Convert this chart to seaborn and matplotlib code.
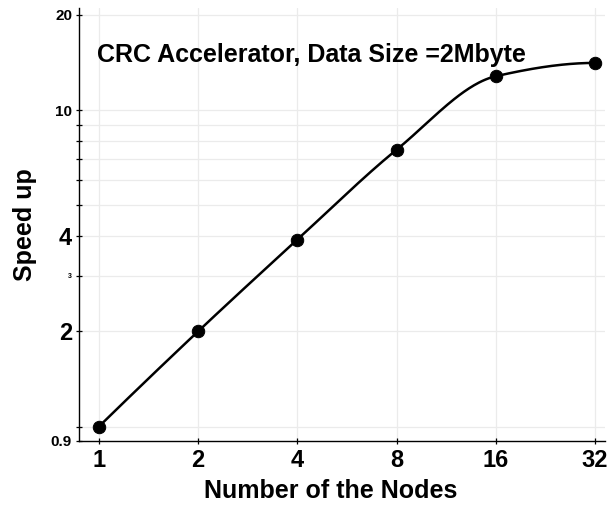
import numpy as np
import pandas as pd
import matplotlib
matplotlib.use("Agg")
import matplotlib.pyplot as plt
import seaborn as sns
from matplotlib.ticker import FixedLocator, NullFormatter

nodes = [1, 2, 4, 8, 16, 32]
speedup = [1.0, 2.0, 3.9, 7.5, 12.8, 14.1]
ytick_vals = [0.9, 2, 3, 4, 10, 20]
ytick_labels = ["0.9", "2", "3", "4", "10", "20"]
ytick_sizes = [11, 17, 5, 17, 11, 11]
title = "CRC Accelerator, Data Size =2Mbyte"


def pchip(x, y, xs):
    """Monotone piecewise cubic Hermite curve through (x, y), evaluated at xs."""
    x = np.asarray(x, float)
    y = np.asarray(y, float)
    h = np.diff(x)
    delta = np.diff(y) / h
    n = len(x)
    m = np.zeros(n)
    for i in range(1, n - 1):
        if delta[i - 1] * delta[i] > 0:
            w1 = 2 * h[i] + h[i - 1]
            w2 = h[i] + 2 * h[i - 1]
            m[i] = (w1 + w2) / (w1 / delta[i - 1] + w2 / delta[i])

    def end_slope(h0, h1, d0, d1):
        s = ((2 * h0 + h1) * d0 - h0 * d1) / (h0 + h1)
        if np.sign(s) != np.sign(d0):
            s = 0.0
        elif np.sign(d0) != np.sign(d1) and abs(s) > abs(3 * d0):
            s = 3 * d0
        return s

    m[0] = end_slope(h[0], h[1], delta[0], delta[1])
    m[-1] = end_slope(h[-1], h[-2], delta[-1], delta[-2])
    out = np.empty_like(xs)
    for k, xv in enumerate(xs):
        i = min(max(np.searchsorted(x, xv) - 1, 0), n - 2)
        t = (xv - x[i]) / h[i]
        h00 = 2 * t ** 3 - 3 * t ** 2 + 1
        h10 = t ** 3 - 2 * t ** 2 + t
        h01 = -2 * t ** 3 + 3 * t ** 2
        h11 = t ** 3 - t ** 2
        out[k] = h00 * y[i] + h10 * h[i] * m[i] + h01 * y[i + 1] + h11 * h[i] * m[i + 1]
    return out


df = pd.DataFrame({"nodes": nodes, "speedup": speedup})

# smooth curve drawn in log-log space
lx = np.log2(df["nodes"].to_numpy())
ly = np.log2(df["speedup"].to_numpy())
fine = np.linspace(lx[0], lx[-1], 300)
curve = pd.DataFrame({"nodes": 2 ** fine, "speedup": 2 ** pchip(lx, ly, fine)})

sns.set_style("white")
plt.rcParams["font.family"] = ["Liberation Sans", "DejaVu Sans"]
for key in ["text.color", "axes.labelcolor", "xtick.color", "ytick.color"]:
    plt.rcParams[key] = "black"

fig = plt.figure(figsize=(6.11, 5.08), dpi=100)
ax = fig.add_axes([0.1293, 0.1319, 0.861, 0.852])

sns.lineplot(data=curve, x="nodes", y="speedup", ax=ax, color="black", lw=1.8, sort=False)
sns.scatterplot(data=df, x="nodes", y="speedup", ax=ax, color="black", s=80,
                edgecolor="black", zorder=5)

ax.set_xscale("log", base=2)
ax.set_yscale("log")
ax.set_xlim(0.87, 34.3)
ax.set_ylim(0.9, 21)

ax.set_xticks(nodes)
ax.set_xticklabels([str(n) for n in nodes], fontsize=17, fontweight="bold")
ax.xaxis.set_minor_locator(FixedLocator([]))

ax.yaxis.set_major_locator(FixedLocator(ytick_vals))
ax.set_yticklabels(ytick_labels, fontweight="bold")
for lab, fs in zip(ax.get_yticklabels(), ytick_sizes):
    lab.set_fontsize(fs)
ax.yaxis.set_minor_locator(FixedLocator([1, 5, 6, 7, 8, 9]))
ax.yaxis.set_minor_formatter(NullFormatter())

# grid: verticals at node counts, horizontals at integer speedups
for xv in nodes:
    ax.axvline(xv, color="#ebebeb", lw=0.9, zorder=0)
for yv in list(range(1, 11)) + [20]:
    ax.axhline(yv, color="#ebebeb", lw=0.9, zorder=0)

ax.tick_params(axis="both", which="both", direction="inout", length=4, width=0.9,
               color="black", left=True, bottom=True)
ax.tick_params(axis="y", which="major", pad=3)
ax.tick_params(axis="x", which="major", pad=4)

for side in ["top", "right"]:
    ax.spines[side].set_visible(False)
for side in ["left", "bottom"]:
    ax.spines[side].set_color("black")
    ax.spines[side].set_linewidth(1.0)

ax.set_xlabel("Number of the Nodes", fontsize=18, fontweight="bold")
ax.set_ylabel("Speed up", fontsize=18, fontweight="bold")
ax.xaxis.set_label_coords(0.479, -0.088)
ax.yaxis.set_label_coords(-0.079, 0.5)

ax.text(0.034, 0.876, title, transform=ax.transAxes, fontsize=18,
        fontweight="bold", ha="left", va="baseline")

fig.savefig("out.png", dpi=100)
